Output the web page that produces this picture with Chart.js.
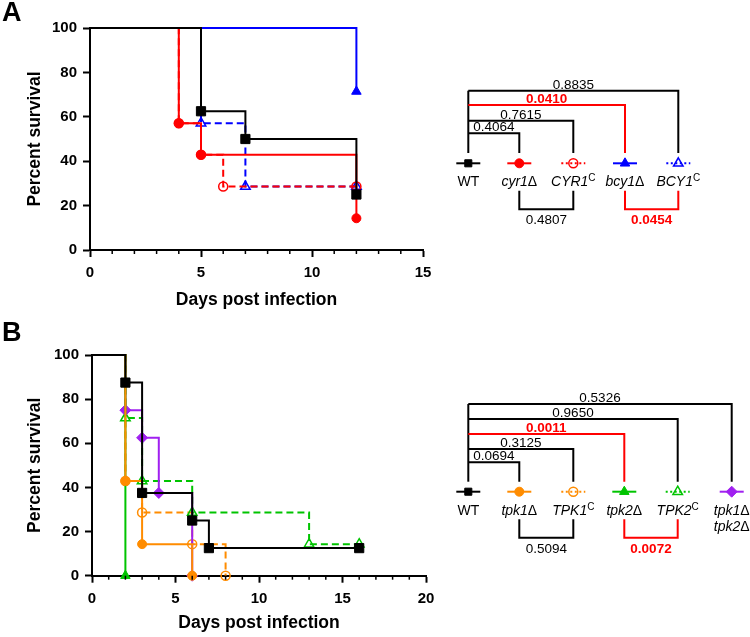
<!DOCTYPE html>
<html>
<head>
<meta charset="utf-8">
<script src="https://cdn.jsdelivr.net/npm/chart.js@4.4.1/dist/chart.umd.min.js"></script>
<style>
  html, body { margin: 0; padding: 0; background: #fff; }
  #wrap { position: relative; width: 750px; height: 637px; }
  #chartA { position: absolute; left: 0; top: 0; }
  #chartB { position: absolute; left: 0; top: 318px; }
</style>
</head>
<body>
<div id="wrap">
  <canvas id="chartA" width="750" height="318"></canvas>
  <canvas id="chartB" width="750" height="319"></canvas>
</div>
<script>
const FONT = '"Liberation Sans", Arial, Helvetica, sans-serif';

// ---- Panel A: percent survival vs days post infection ----
const wtA_days = [0, 5, 7, 12];
const wtA_surv = [100, 62.5, 50, 25];
const cyr1_days = [0, 4, 5, 12];
const cyr1_surv = [100, 57.1, 42.9, 14.3];
const cyr1c_days = [0, 4, 5, 6, 12];
const cyr1c_surv = [100, 57.1, 42.9, 28.6, 28.6];
const bcy1_days = [0, 12];
const bcy1_surv = [100, 71.4];
const bcy1c_days = [0, 5, 7, 12];
const bcy1c_surv = [100, 57.1, 28.6, 28.6];

const groupsA = ['WT', 'cyr1Δ', 'CYR1^C', 'bcy1Δ', 'BCY1^C'];
const pTopA = ['0.8835', '0.0410', '0.7615', '0.4064'];   // WT vs ...
const pTopTargetsA = [4, 3, 2, 1];
const pBottomA = ['0.4807', '0.0454'];
const pBottomPairsA = [[1, 2], [3, 4]];

// ---- Panel B ----
const wtB_days = [0, 2, 3, 6, 7, 16];
const wtB_surv = [100, 87.5, 37.5, 25, 12.5, 12.5];
const tpk1_days = [0, 2, 3, 6];
const tpk1_surv = [100, 42.9, 14.3, 0];
const tpk1c_days = [0, 2, 3, 6, 8];
const tpk1c_surv = [100, 42.9, 28.6, 14.3, 0];
const tpk2_days = [0, 2];
const tpk2_surv = [100, 0];
const tpk2c_days = [0, 2, 3, 6, 13, 16];
const tpk2c_surv = [100, 71.4, 42.9, 28.6, 14.3, 14.3];
const tpk12_days = [0, 2, 3, 4, 6];
const tpk12_surv = [100, 75, 62.5, 37.5, 0];

const groupsB = ['WT', 'tpk1Δ', 'TPK1^C', 'tpk2Δ', 'TPK2^C', 'tpk1Δ\ntpk2Δ'];
const pTopB = ['0.5326', '0.9650', '0.0011', '0.3125', '0.0694'];
const pTopTargetsB = [5, 4, 3, 2, 1];
const pBottomB = ['0.5094', '0.0072'];
const pBottomPairsB = [[1, 2], [3, 4]];

const yTicks = [0, 20, 40, 60, 80, 100];

// marker styles
const RED = '#ff0000', BLUE = '#0000ff', ORANGE = '#ff8c00', GREEN = '#00c400', PURPLE = '#a020f0';
const stA = [
  { color: '#000', shape: 'rect', r: 6.5, open: false },
  { color: RED, shape: 'circle', r: 4.5, open: false },
  { color: RED, shape: 'circle', r: 4.5, open: true },
  { color: BLUE, shape: 'triangle', r: 5.5, open: false },
  { color: BLUE, shape: 'triangle', r: 5.5, open: true }
];
const stB = [
  { color: '#000', shape: 'rect', r: 6.5, open: false },
  { color: ORANGE, shape: 'circle', r: 4.5, open: false },
  { color: ORANGE, shape: 'circle', r: 4.5, open: true },
  { color: GREEN, shape: 'triangle', r: 5.5, open: false },
  { color: GREEN, shape: 'triangle', r: 5.5, open: true },
  { color: PURPLE, shape: 'rectRot', r: 5.5, open: false }
];

function km(label, days, surv, st, order) {
  return {
    label: label,
    data: days.map((d, i) => ({ x: d, y: surv[i] })),
    stepped: true,
    borderColor: st.color,
    borderWidth: 2,
    borderDash: st.open ? [7, 4] : [],
    pointStyle: st.shape,
    pointRadius: days.map((d, i) => i === 0 ? 0 : st.r),
    pointBackgroundColor: st.open ? 'rgba(0,0,0,0)' : st.color,
    pointBorderColor: st.color,
    pointBorderWidth: st.open ? 1.5 : 1,
    fill: false,
    clip: false,
    order: order
  };
}

function scales(xMax, yWidth, xHeight, xTitlePad) {
  return {
    x: {
      type: 'linear', min: 0, max: xMax,
      ticks: {
        stepSize: 1, autoSkip: false, maxRotation: 0, padding: 7, color: '#000',
        font: { family: FONT, size: 15, weight: 'bold' },
        callback: v => v % 5 === 0 ? v : ''
      },
      grid: {
        drawOnChartArea: false, drawTicks: true, tickLength: 7, tickWidth: 2,
        tickColor: c => (c.tick && c.tick.value % 5 === 0) ? '#000' : 'rgba(0,0,0,0)'
      },
      border: { display: true, color: '#000', width: 2 },
      title: {
        display: true, text: 'Days post infection', color: '#000',
        font: { family: FONT, size: 17.5, weight: 'bold' },
        padding: { top: 0, bottom: xTitlePad }
      },
      afterFit: s => { s.height = xHeight; }
    },
    y: {
      min: 0, max: 100,
      afterBuildTicks: s => { s.ticks = yTicks.map(v => ({ value: v })); },
      ticks: { padding: 6, color: '#000', font: { family: FONT, size: 15, weight: 'bold' } },
      grid: { drawOnChartArea: false, drawTicks: true, tickLength: 7, tickWidth: 2, tickColor: '#000' },
      border: { display: true, color: '#000', width: 2 },
      title: {
        display: true, text: 'Percent survival', color: '#000',
        font: { family: FONT, size: 17.5, weight: 'bold' },
        padding: { top: 24.5, bottom: 0 }
      },
      afterFit: s => { s.width = yWidth; }
    }
  };
}

const minorTicks = {
  id: 'minorTicks',
  afterDraw(chart) {
    const x = chart.scales.x, ctx = chart.ctx;
    ctx.save();
    ctx.strokeStyle = '#000';
    ctx.lineWidth = 1.5;
    for (let v = x.min; v <= x.max; v++) {
      if (v % 5 === 0) continue;
      const px = x.getPixelForValue(v);
      ctx.beginPath();
      ctx.moveTo(px, x.top);
      ctx.lineTo(px, x.top + 4);
      ctx.stroke();
    }
    ctx.restore();
  }
};

function parseLabel(line) {
  const segs = [];
  let sup = false;
  const plain = line === 'WT';
  for (const ch of line) {
    if (ch === '^') { sup = true; continue; }
    const kind = sup ? 'sup' : (ch === 'Δ' || plain) ? 'up' : 'it';
    const last = segs[segs.length - 1];
    if (last && last.kind === kind) last.t += ch; else segs.push({ kind: kind, t: ch });
  }
  segs.forEach(s => {
    s.font = s.kind === 'it' ? `italic 14px ${FONT}` : s.kind === 'sup' ? `10px ${FONT}` : `14px ${FONT}`;
    s.dy = s.kind === 'sup' ? -5 : 0;
  });
  return segs;
}

function drawLabel(ctx, label, cx, baseY) {
  label.split('\n').forEach((line, li) => {
    const segs = parseLabel(line);
    let w = 0;
    segs.forEach(s => { ctx.font = s.font; s.w = ctx.measureText(s.t).width; w += s.w; });
    let x = cx - w / 2;
    segs.forEach(s => {
      ctx.font = s.font;
      ctx.fillText(s.t, x, baseY + li * 16 + s.dy);
      x += s.w;
    });
  });
}

function pText(ctx, p, x, y) {
  const sig = parseFloat(p) < 0.05;
  ctx.fillStyle = sig ? RED : '#000';
  ctx.font = (sig ? 'bold ' : '') + `13.5px ${FONT}`;
  ctx.textAlign = 'center';
  ctx.fillText(p, x, y);
  ctx.textAlign = 'left';
}

function line(ctx, pts, color) {
  ctx.strokeStyle = color;
  ctx.lineWidth = 2;
  ctx.beginPath();
  ctx.moveTo(pts[0][0], pts[0][1]);
  for (let i = 1; i < pts.length; i++) ctx.lineTo(pts[i][0], pts[i][1]);
  ctx.stroke();
}

function comparePlugin(cfg) {
  return {
    id: 'compare',
    afterDraw(chart) {
      const ctx = chart.ctx;
      ctx.save();
      ctx.translate(0, -cfg.offsetY);
      ctx.textBaseline = 'alphabetic';

      // panel letter
      ctx.fillStyle = '#000';
      ctx.font = `bold 27px ${FONT}`;
      ctx.fillText(cfg.letter, 2, cfg.letterY);

      const xs = cfg.xs;
      // WT vs each group, stacked brackets above
      line(ctx, [[xs[0], cfg.levels[0]], [xs[0], cfg.dropEnd]], '#000');
      cfg.pTop.forEach((p, k) => {
        const t = cfg.targets[k], y = cfg.levels[k];
        const col = parseFloat(p) < 0.05 ? RED : '#000';
        line(ctx, [[xs[0], y], [xs[t], y], [xs[t], cfg.dropEnd]], col);
        pText(ctx, p, (xs[0] + xs[t]) / 2, y - 2);
      });
      // pairs below
      cfg.pBottom.forEach((p, k) => {
        const [a, b] = cfg.pairs[k];
        const col = parseFloat(p) < 0.05 ? RED : '#000';
        line(ctx, [[xs[a], cfg.lowTop], [xs[a], cfg.lowLine], [xs[b], cfg.lowLine], [xs[b], cfg.lowTop]], col);
        pText(ctx, p, (xs[a] + xs[b]) / 2, cfg.lowText);
      });

      // legend symbols and names
      cfg.groups.forEach((g, i) => {
        const st = cfg.styles[i], x = xs[i], y = cfg.symY;
        ctx.save();
        ctx.strokeStyle = st.color;
        ctx.lineWidth = 2;
        ctx.setLineDash(st.open ? [2, 2.5] : []);
        ctx.beginPath();
        ctx.moveTo(x - 12, y);
        ctx.lineTo(x + 12, y);
        ctx.stroke();
        ctx.setLineDash([]);
        ctx.fillStyle = st.open ? 'rgba(0,0,0,0)' : st.color;
        ctx.lineWidth = st.open ? 1.5 : 1;
        Chart.helpers.drawPoint(ctx, {
          pointStyle: st.shape, rotation: 0,
          radius: st.shape === 'rect' ? 5 : st.r, borderWidth: ctx.lineWidth
        }, x, y);
        ctx.restore();
        ctx.fillStyle = '#000';
        drawLabel(ctx, g, x, cfg.labelY);
      });
      ctx.restore();
    }
  };
}

function makeChart(id, datasets, xMax, geo, cfg) {
  return new Chart(document.getElementById(id), {
    type: 'line',
    data: { datasets: datasets },
    options: {
      responsive: false,
      animation: false,
      events: [],
      layout: { padding: { left: 0, right: geo.right, top: geo.top, bottom: 0 } },
      elements: { line: { tension: 0 } },
      plugins: { legend: { display: false }, tooltip: { enabled: false } },
      scales: scales(xMax, geo.yWidth, geo.xHeight, geo.xTitlePad)
    },
    plugins: [minorTicks, comparePlugin(cfg)]
  });
}

makeChart('chartA', [
  km('WT', wtA_days, wtA_surv, stA[0], 0),
  km('cyr1Δ', cyr1_days, cyr1_surv, stA[1], 1),
  km('CYR1C', cyr1c_days, cyr1c_surv, stA[2], 3),
  km('bcy1Δ', bcy1_days, bcy1_surv, stA[3], 2),
  km('BCY1C', bcy1c_days, bcy1c_surv, stA[4], 4)
], 15, { right: 327, top: 28, yWidth: 90, xHeight: 68, xTitlePad: 7.5 }, {
  offsetY: 0, letter: 'A', letterY: 21,
  xs: [468.3, 519.3, 573.3, 625, 678.3],
  groups: groupsA, styles: stA,
  pTop: pTopA, targets: pTopTargetsA, levels: [90.7, 105, 120.7, 133.3], dropEnd: 153,
  pBottom: pBottomA, pairs: pBottomPairsA, lowTop: 190.7, lowLine: 209.3, lowText: 224.3,
  symY: 163.3, labelY: 186
});

makeChart('chartB', [
  km('WT', wtB_days, wtB_surv, stB[0], 0),
  km('tpk1Δ', tpk1_days, tpk1_surv, stB[1], 1),
  km('TPK1C', tpk1c_days, tpk1c_surv, stB[2], 5),
  km('tpk2Δ', tpk2_days, tpk2_surv, stB[3], 2),
  km('TPK2C', tpk2c_days, tpk2c_surv, stB[4], 4),
  km('tpk1Δtpk2Δ', tpk12_days, tpk12_surv, stB[5], 3)
], 20, { right: 324, top: 37, yWidth: 92, xHeight: 61.3, xTitlePad: 3.5 }, {
  offsetY: 318, letter: 'B', letterY: 341,
  xs: [468.3, 519.3, 573.3, 624.3, 677.7, 731.7],
  groups: groupsB, styles: stB,
  pTop: pTopB, targets: pTopTargetsB, levels: [404, 419, 434, 449, 462.3], dropEnd: 481.7,
  pBottom: pBottomB, pairs: pBottomPairsB, lowTop: 519.3, lowLine: 537.7, lowText: 553,
  symY: 491.7, labelY: 515
});
</script>
</body>
</html>
